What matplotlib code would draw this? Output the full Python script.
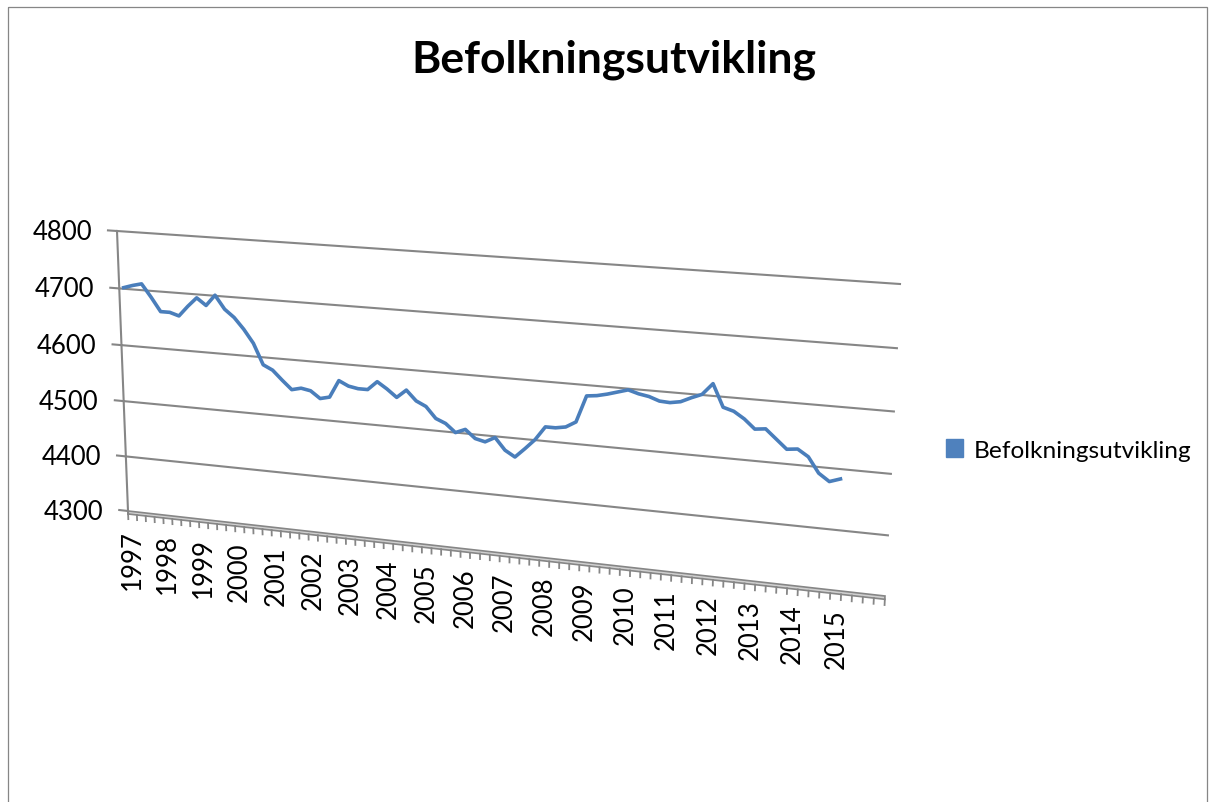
import numpy as np
import matplotlib
matplotlib.use("Agg")
import matplotlib.pyplot as plt
from matplotlib.transforms import Transform
from matplotlib.patches import Patch, Rectangle

plt.rcParams['font.family'] = ['Lato', 'DejaVu Sans']

folketall = [4702, 4707, 4711, 4689, 4665, 4665, 4660, 4678, 4694, 4682,
             4701, 4678, 4665, 4646, 4623, 4587, 4579, 4563, 4548, 4552,
             4549, 4537, 4541, 4571, 4563, 4560, 4560, 4575, 4564, 4551,
             4565, 4548, 4540, 4521, 4514, 4500, 4507, 4493, 4489, 4498,
             4478, 4468, 4484, 4501, 4524, 4524, 4527, 4537, 4582, 4584,
             4588, 4593, 4598, 4593, 4590, 4584, 4583, 4586, 4594, 4601,
             4620, 4583, 4578, 4567, 4552, 4554, 4539, 4524, 4526, 4515,
             4490, 4478, 4484]
years = list(range(1997, 2016))
n_cat = 77                      # category slots on the axis (some rows empty)
y_ticks = [4300, 4400, 4500, 4600, 4700, 4800]
serie = "Befolkningsutvikling"

blue = '#4A7EBB'
grey = '#868686'

# back wall corners in pixels: (cat, value) -> (x, y)
src = [(0, 0), (0, 1), (1, 0), (1, 1)]
dst = [(128, 512), (117, 232), (885, 597), (900, 285)]


def homography(src, dst):
    A, b = [], []
    for (u, v), (x, y) in zip(src, dst):
        A.append([u, v, 1, 0, 0, 0, -u * x, -v * x]); b.append(x)
        A.append([0, 0, 0, u, v, 1, -u * y, -v * y]); b.append(y)
    h = np.linalg.solve(np.array(A, float), np.array(b, float))
    return np.append(h, 1).reshape(3, 3)


class Wall(Transform):
    input_dims = output_dims = 2

    def __init__(self, H):
        super().__init__()
        self.H = H

    def transform_non_affine(self, xy):
        xy = np.asarray(xy, float)
        s = xy[:, 0] / n_cat
        t = (xy[:, 1] - y_ticks[0]) / (y_ticks[-1] - y_ticks[0])
        p = np.column_stack([s, t, np.ones(len(s))]) @ self.H.T
        return p[:, :2] / p[:, 2:]


fig = plt.figure(figsize=(12.15, 8.03), dpi=100)
ax = fig.add_axes([0, 0, 1, 1])
ax.set_xlim(0, 1215)
ax.set_ylim(803, 0)
ax.axis('off')
tr = Wall(homography(src, dst)) + ax.transData

# chart border
ax.add_patch(Rectangle((8, 8), 1199, 820, fill=False, ec=grey, lw=0.9))

# wall gridlines
for v in y_ticks[1:]:
    ax.plot([0, n_cat], [v, v], transform=tr, color=grey, lw=1.5)
    ax.plot([-1, 0], [v, v], transform=tr, color=grey, lw=1.5)

# floor seen edge-on (thin slab) with category ticks
ax.fill([0, n_cat, n_cat, 0], [4300, 4300, 4294.5, 4294.5], transform=tr,
        fc='#d0d0d0', ec=grey, lw=1.2)
ax.plot([-1, 0], [4300, 4300], transform=tr, color=grey, lw=1.5)
for k in range(n_cat + 1):
    ax.plot([k, k], [4294.5, 4285], transform=tr, color=grey, lw=1.3)

# value axis
ax.plot([0, 0], [4294.5, 4800], transform=tr, color=grey, lw=1.5)
for v in y_ticks:
    ax.annotate(str(v), (0, v), xycoords=tr, xytext=(-25, 0),
                textcoords='offset pixels', ha='right', va='center',
                fontsize=18.5)

# category labels (year on first quarter)
for i, yr in enumerate(years):
    ax.annotate(str(yr), (4 * i + 0.5, 4300), xycoords=tr, xytext=(0, -18),
                textcoords='offset pixels', ha='center', va='top',
                rotation=90, fontsize=18.5)

# series
x = np.arange(len(folketall)) + 0.5
ax.plot(x, folketall, transform=tr, color=blue, lw=2.6, solid_joinstyle='round')

ax.text(614, 73, serie, ha='center', va='baseline', fontsize=32,
        fontweight='bold')

fig.legend(handles=[Patch(color='#4F81BD', label=serie)], loc='center left',
           bbox_to_anchor=(946 / 1215, 1 - 451 / 803), frameon=False,
           fontsize=17.6, handlelength=0.7, handleheight=0.7,
           handletextpad=0.45, borderpad=0, borderaxespad=0)

fig.savefig('out.png', dpi=100)
